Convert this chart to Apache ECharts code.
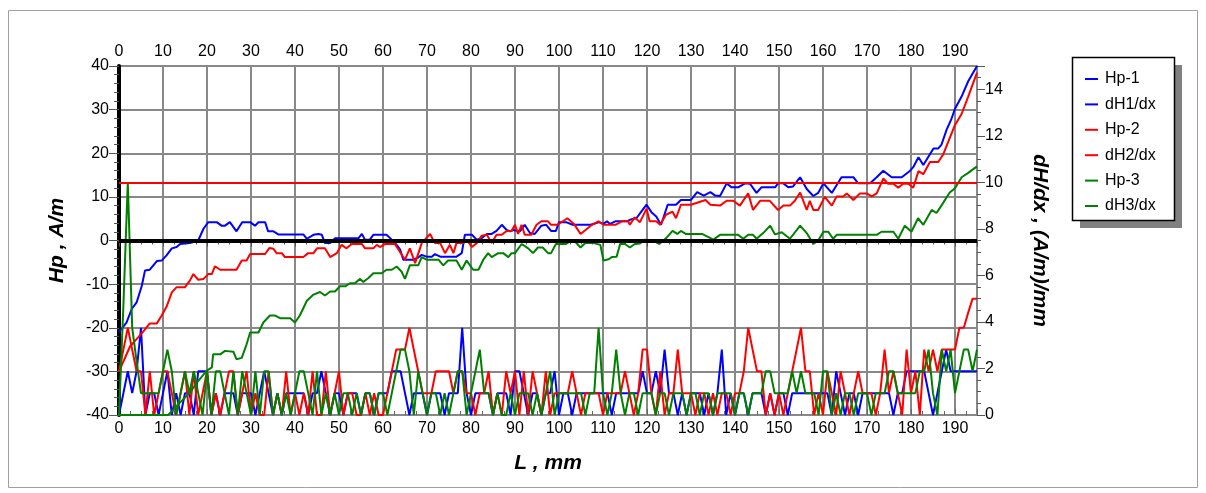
<!DOCTYPE html>
<html><head><meta charset="utf-8">
<script src="https://cdn.jsdelivr.net/npm/echarts/dist/echarts.min.js"></script>
<style>html,body{margin:0;padding:0;background:#fff}#c{width:1206px;height:493px}</style>
</head><body><div id="c"></div>
<script>
// ---- Data (L in mm, Hp in A/m, dH/dx in (A/m)/mm) ----
const legendNames = ['Hp-1','dH1/dx','Hp-2','dH2/dx','Hp-3','dH3/dx'];

const hp1X = [0,1.7,2.9,4,5.2,5.9,7,8.6,9.7,10.8,12,13.1,13.9,16.1,18,19.2,20.3,22.2,23.3,24.1,25.2,26.7,28,29.8,30.9,31.7,33.2,33.9,35.1,36.2,41.9,42.7,44.2,45.3,46.1,46.8,48,49.1,54.4,55.2,55.9,57,57.8,60.8,62,63.1,63.9,64.6,66.9,68,68.8,69.9,71.1,71.8,73,76.7,77.9,78.6,80.2,81.3,82.4,83.6,84.7,85.8,87,88.1,88.9,89.6,91.1,92.2,93.4,94.5,96,97.1,98.2,99.3,100,101.6,103.1,107.2,109,110.1,110.9,111.6,112.8,115.4,116.5,117.6,118.7,119.9,121,122.1,123.2,124.7,126.6,127.7,130,131.4,132.9,134.4,135.5,136.6,138.1,139.2,140.7,142.3,143.4,144.9,146,149.1,149.8,151,152.1,153.2,154.8,156.3,157.8,158.9,160.1,162,164.2,166.9,168,170.7,172.2,173.7,175.6,177.9,179.8,180.5,181.7,182.8,185.1,186.2,186.9,188.1,189.2,190,191.5,193,195];
const hp1Y = [-21,-18.8,-15.7,-14.2,-10.3,-6.9,-6.7,-4.7,-4.6,-3.4,-1.8,-1.5,-0.8,-0.6,0,2.7,4.2,4.2,3.4,3.4,4.2,2.1,4.2,4.2,3.4,4.2,4.2,2.1,2.1,1.4,1.4,0.4,1.3,1.5,1.3,-0.6,-0.6,0.5,0.5,1.5,0.2,0.2,1.3,1.3,0.2,-1,-2.1,-4.4,-4.4,-3.9,-3.3,-3.7,-3.7,-3.1,-3.7,-3.7,-2.9,1.3,1.3,0.2,0.5,1.5,1.5,2.2,3.6,2.4,2.1,2.4,2.1,3.6,1.7,1.5,3.4,3.6,2.2,2.2,4.2,4.2,3.6,3.6,4.2,3.8,4.4,3.8,4.4,4.4,4.9,5.1,6.6,8.2,6.5,5.5,3.6,8.2,8.2,9.3,9.3,11.1,10.3,11.1,10.3,10.2,13.1,12.2,12.2,13.1,13,10.9,12.2,12.2,13.1,13.1,12.2,12.4,14.5,11.8,10.2,10.9,13.1,10.9,14.5,14.5,13.1,13.1,14.5,16,14.5,14.5,16,16.8,19.1,17.3,21.1,21.1,21.9,25.4,27.9,30.2,33,36.5,40];

const hp2X = [0,2.5,4,5.5,7,8.6,9.7,10.8,12,13.1,15,16.1,16.9,18,19.2,20.3,21.1,21.8,23,26.7,27.9,29,29.8,33.2,34.2,35.1,35.8,37,37.7,41.9,43,44.2,45,46.8,48,49.5,50.6,51.7,52.9,55.2,55.9,57.8,58.6,59.3,60.5,62.7,63.9,65,66.1,67.3,68.8,70.7,71.8,73,74.1,75.2,76,76.7,78.3,79,80.2,81.3,82.4,83.6,84.7,85.8,87,88.1,89.2,90,90.7,91.5,92.2,93.7,94.9,96,97.5,98.2,99.7,101.9,103.4,104.9,107.5,109,110.1,112.8,114.3,115.7,116.1,117.2,118.4,119.9,120.6,122.1,123,124.3,125.8,126.6,127.7,130,133.3,134.4,136.6,138.1,139.6,141.1,143,144.1,145.7,147.9,149.8,151,152.5,153.6,154.8,156.3,157,157.8,158.9,160.4,162,163.1,164.6,165.4,166.9,168.4,169.9,171.1,172.2,173.7,174.8,176,177.1,178.2,179.4,180.5,181.7,182.8,184.3,186.2,187.3,188.5,190,191.5,193,195];
const hp2Y = [-30,-24.3,-22.6,-20.9,-19,-19,-17.2,-15.2,-11.9,-10.7,-10.7,-9.2,-7.7,-9,-8.8,-7.7,-7.7,-5.9,-6.7,-6.7,-4.6,-4.6,-3.1,-3.1,-1.7,-1.9,-2.9,-2.9,-3.8,-3.8,-2.9,-2.9,-1.8,-1.8,-3.8,-2.9,-1,-1.8,-0.8,-0.8,-1.8,-1.8,-1,-1.5,-0.8,-0.8,-2.7,-4.4,-1.8,-5.2,-0.6,1.5,-0.6,-0.6,-2.9,-1,-2.9,-0.6,-0.6,0.2,-1.5,-0.6,1.1,1.3,-0.6,1.3,1.3,2.2,2.2,3.6,1.5,3.6,1.3,1.3,3.6,4.4,4.4,3.6,3.6,5.1,3.8,1.5,3.6,4.4,3.6,3.6,4.4,4.4,3.6,5.3,4.2,7.3,4.4,4.4,3.6,5.9,6.6,5.1,8.2,8.2,9.3,8.2,8,9.1,9.1,8,10.8,7,9.1,9.1,7,8,8,9.1,11,7,9.1,7,7,10,8,10.1,10.1,10.8,9.3,10.8,10.8,10.1,10.8,14.2,13,13,12.1,13,13,12.1,15.9,15.2,18,18,19.7,22.7,26.5,29,33,38.5];

const hp3X = [0,11.2,13.1,16.1,17.7,19.9,21.1,21.4,23,24.1,26,26.7,27.9,29,29.8,31.7,32.8,34.3,35.5,36.6,38.9,40,41.1,42.7,44.2,45.7,46.8,48,49.1,50.2,51.4,52.5,53.6,54.8,55.5,56.7,57.8,59.7,60.8,62,63.1,64.2,65,66.1,68,68.8,69.9,72.6,73.7,74.8,76.7,77.9,79,80.5,81.7,82.8,83.9,84.7,86.2,87.3,88.5,89.2,90,91.5,93,94.1,95.2,96.3,97.5,98.2,99.3,101.6,102.7,103.8,104.9,106,107.9,109.4,110.1,111.3,112,113.1,113.9,115,116.1,117.2,118.4,119.5,121.3,122.8,124.3,125.8,126.9,127.7,128.8,132.5,135.1,136.6,140.7,141.9,143,144.1,144.9,146.4,148,149.1,150.6,152.5,154.8,156.3,157.8,158.9,160.1,161.2,162.3,163.1,172.2,173.3,176,177.1,178.6,180.1,181.6,182.8,184.7,185.8,186.9,188.8,190,191.5,193,195];
const hp3Y = [-40,-40,-37.9,-34.9,-32.6,-29.9,-29.1,-26.1,-26.1,-25.3,-25.5,-27.2,-26.9,-23.8,-21.1,-21.1,-18.8,-17.2,-17.2,-17.8,-17.8,-18.8,-17.2,-13.8,-12.4,-11.8,-12.6,-11.7,-11.7,-10.5,-10.5,-9.8,-9.8,-8.8,-9.5,-8.6,-7.5,-7.5,-6.7,-6.7,-5.95,-7.1,-8.8,-5.7,-5.7,-3.8,-4.4,-4.4,-5.7,-4.6,-4.6,-6.7,-4.6,-6.7,-6.7,-4.4,-2.9,-3.8,-2.9,-2.9,-3.8,-2.9,-2.9,-0.8,-1.8,-2.9,-1.6,-1.6,-2.9,-2.9,-0.8,-0.8,-0.1,-0.4,-1.6,-0.6,-0.6,-1,-4.6,-4.3,-3.8,-3.7,-0.8,-0.8,-1.6,-0.8,-0.7,0.2,0,-0.8,0.5,2.2,1.5,2.2,1.5,1.5,0.2,1.3,1.3,0.4,1.3,1.3,0.4,1.7,3.4,1.4,1.9,0.4,3.4,1.7,-0.8,0,2,2,0.4,1.3,1.3,2,2,0.4,3.4,2,5.1,3.6,7,6.3,8,11,12,14.5,15.5,17];

// dH/dx sampled every 1 mm, L = 0 .. 195
const dH1 = [0,.94,1.88,.94,1.88,3.75,0,.94,.94,0,
 .94,1.88,0,.94,0,.94,.94,0,1.88,1.88,
 1.88,0,.94,0,.94,.94,.94,0,.94,.94,
 .94,0,.94,1.88,.94,0,.94,0,.94,.94,
 .94,.94,.94,0,.94,.94,1.88,.94,0,.94,
 .94,0,.94,.94,.94,0,.94,.94,0,.94,
 .94,.94,1.88,1.88,1.88,.94,0,.94,.94,.94,
 0,.94,.94,.94,0,.94,.94,.94,3.75,.94,
 0,.94,.94,.94,.94,0,.94,.94,.94,0,
 1.88,1.88,.94,0,.94,.94,0,.94,.94,1.88,
 0,.94,.94,0,.94,.94,.94,.94,.94,.94,
 .94,.94,0,.94,.94,.94,.94,.94,.94,1.88,
 .94,.94,1.88,.94,2.81,.94,.94,0,.94,0,
 .94,.94,.94,0,.94,0,.94,2.81,0,.94,
 0,.94,.94,0,.94,.94,.94,0,.94,0,
 .94,.94,0,.94,.94,.94,.94,.94,.94,.94,
 .94,.94,0,1.88,.94,0,.94,.94,0,.94,
 .94,.94,.94,.94,.94,.94,0,.94,.94,1.88,
 1.88,1.88,1.88,1.88,.94,0,.94,1.88,2.81,1.88,
 1.88,1.88,1.88,1.88,1.88,1.88];
const dH2 = [1.88,2.81,3.75,2.81,1.88,1.88,0,1.88,0,.94,
 1.88,1.88,.94,0,.94,1.88,0,1.88,0,.94,
 1.88,0,.94,0,.94,1.88,1.88,0,.94,1.88,
 0,.94,0,0,1.88,0,.94,0,1.88,0,
 .94,0,.94,0,1.88,0,0,1.88,0,.94,
 1.88,0,.94,.94,0,0,.94,0,.94,0,
 0,.94,1.88,2.81,2.81,2.81,3.75,2.81,1.88,.94,
 .94,.94,1.88,1.88,1.88,1.88,.94,1.88,1.88,.94,
 .94,0,.94,.94,1.88,0,.94,0,1.88,.94,
 1.88,0,1.88,0,1.88,.94,0,1.88,0,.94,
 .94,.94,.94,1.88,.94,0,.94,.94,.94,.94,
 0,.94,.94,.94,.94,1.88,.94,0,.94,2.81,
 2.81,.94,0,1.88,0,.94,.94,2.81,.94,.94,
 .94,0,.94,.94,0,.94,0,.94,.94,0,
 .94,.94,1.88,3.75,2.81,1.88,1.88,0,.94,0,
 .94,0,.94,1.88,2.81,3.75,1.88,1.88,0,.94,
 0,1.88,.94,0,1.88,.94,0,.94,1.88,.94,
 .94,.94,0,.94,2.81,.94,1.88,.94,0,2.81,
 .94,1.88,0,2.81,1.88,2.81,1.88,2.81,2.81,2.81,
 2.81,3.75,3.75,4.4,5,5];
const dH3 = [0,4.7,10,3.75,2.3,.94,.94,.94,.94,.94,
 1.88,2.81,1.88,0,.94,1.88,.94,1.88,.94,0,
 1.88,0,1.88,1.88,.94,0,1.88,0,1.88,.94,
 0,1.88,0,1.88,1.88,0,.94,0,.94,0,
 .94,1.88,1.88,.94,0,1.88,0,.94,0,.94,
 0,.94,.94,0,.94,0,.94,.94,0,.94,
 .94,0,.94,1.88,2.81,2.81,1.88,0,1.88,.94,
 0,.94,.94,0,.94,0,.94,1.88,1.88,0,
 .94,1.88,2.81,.94,.94,0,.94,0,0,.94,
 0,.94,.94,.94,0,.94,0,.94,1.88,0,
 .94,.94,.94,.94,.94,.94,0,.94,.94,3.75,
 .94,0,.94,2.81,.94,0,.94,.94,0,.94,
 .94,.94,0,.94,.94,0,.94,.94,.94,0,
 .94,.94,0,.94,.94,0,.94,.94,.94,.94,
 0,.94,.94,0,.94,.94,.94,1.88,1.88,.94,
 .94,.94,.94,1.88,.94,1.88,.94,.94,.94,0,
 1.88,1.88,0,.94,0,.94,.94,0,.94,.94,
 .94,0,.94,.94,.94,1.88,1.88,.94,.94,.94,
 .94,.94,1.88,1.88,2.81,.94,0,2.81,1.88,2.81,
 .94,1.88,2.81,2.81,1.88,2.81];

const thresholdDH = 10;   // horizontal red limit line (right axis)

// ---- Chart ----
const zip = (xs, ys) => xs.slice(0, Math.min(xs.length, ys.length)).map((x, i) => [x, ys[i]]);
const byMm = vs => vs.map((v, i) => [i, v]);

const FONT = 'Liberation Sans, Arial, sans-serif';
const BLUE = '#0000ff', RED = '#ff0000', GREEN = '#008000';
const PL = 119, PT = 66, PR = 977, PB = 415;

const chart = echarts.init(document.getElementById('c'), null, {renderer: 'canvas'});

function line(name, data, color, yIdx, extra) {
  return Object.assign({
    name, type: 'line', data, xAxisIndex: 0, yAxisIndex: yIdx,
    showSymbol: false, symbol: 'none', smooth: false, animation: false,
    lineStyle: {color, width: 2}, itemStyle: {color}, clip: true
  }, extra || {});
}

const axisLabelStyle = {color: '#000', fontFamily: FONT, fontSize: 16};

chart.setOption({
  animation: false,
  backgroundColor: '#fff',
  grid: {left: PL, top: PT, width: PR - PL, height: PB - PT, containLabel: false},
  legend: {
    data: legendNames, orient: 'vertical', left: 1080, top: 66,
    icon: 'rect', itemWidth: 13, itemHeight: 2, itemGap: 9.4,
    textStyle: {fontFamily: FONT, fontSize: 16, color: '#000', lineHeight: 16, padding: [0,0,0,2]},
    selectedMode: false
  },
  xAxis: [
    {type: 'value', position: 'bottom', min: 0, max: 195, interval: 10,
     axisLine: {show: true, lineStyle: {color: '#555', width: 2}},
     axisTick: {show: true, length: 6, lineStyle: {color: '#555', width: 1}},
     minorTick: {show: true, splitNumber: 4, length: 4, lineStyle: {color: '#555'}},
     axisLabel: Object.assign({margin: 6, showMaxLabel: false}, axisLabelStyle),
     splitLine: {show: true, lineStyle: {color: '#888', width: 2}}},
    {type: 'value', position: 'top', min: 0, max: 195, interval: 10,
     axisLine: {show: true, lineStyle: {color: '#888', width: 2}},
     axisTick: {show: true, length: 6, lineStyle: {color: '#666', width: 1}},
     minorTick: {show: true, splitNumber: 4, length: 4, lineStyle: {color: '#666'}},
     axisLabel: Object.assign({margin: 6, showMaxLabel: false}, axisLabelStyle),
     splitLine: {show: false}}
  ],
  yAxis: [
    {type: 'value', position: 'left', min: -40, max: 40, interval: 10,
     axisLine: {show: true, onZero: false, lineStyle: {color: '#000', width: 4}},
     axisTick: {show: true, length: 10, lineStyle: {color: '#555', width: 1}},
     minorTick: {show: true, splitNumber: 5, length: 5, lineStyle: {color: '#555'}},
     axisLabel: Object.assign({margin: 10}, axisLabelStyle),
     splitLine: {show: true, lineStyle: {color: '#888', width: 2}}},
    {type: 'value', position: 'right', min: 0, max: 15, interval: 2,
     axisLine: {show: true, onZero: false, lineStyle: {color: '#888', width: 2}},
     axisTick: {show: true, length: 8, lineStyle: {color: '#555', width: 1}},
     minorTick: {show: true, splitNumber: 4, length: 4, lineStyle: {color: '#555'}},
     axisLabel: Object.assign({margin: 8, showMaxLabel: false}, axisLabelStyle),
     splitLine: {show: false}}
  ],
  graphic: [
    {type: 'rect', z: -10, silent: true, shape: {x: 8.5, y: 10.5, width: 1189, height: 477},
     style: {fill: 'none', stroke: '#a0a0a0', lineWidth: 1}},
    {type: 'rect', z: 1, silent: true, shape: {x: 1080, y: 65, width: 102, height: 163},
     style: {fill: '#808080'}},
    {type: 'rect', z: 2, silent: true, shape: {x: 1072.5, y: 57.5, width: 102, height: 163},
     style: {fill: '#fff', stroke: '#000', lineWidth: 1.5}},
    {type: 'text', silent: true, x: 57, y: (PT + PB) / 2, rotation: Math.PI / 2,
     style: {text: 'Hp , A/m', font: 'italic bold 21px ' + FONT, fill: '#000', align: 'center', verticalAlign: 'middle'}},
    {type: 'text', silent: true, x: (PL + PR) / 2, y: 463,
     style: {text: 'L , mm', font: 'italic bold 21px ' + FONT, fill: '#000', align: 'center', verticalAlign: 'middle'}},
    {type: 'text', silent: true, x: 1040, y: (PT + PB) / 2, rotation: -Math.PI / 2,
     style: {text: 'dH/dx , (A/m)/mm', font: 'italic bold 21px ' + FONT, fill: '#000', align: 'center', verticalAlign: 'middle'}}
  ],
  series: [
    line('Hp-1', zip(hp1X, hp1Y), BLUE, 0),
    line('dH1/dx', byMm(dH1), BLUE, 1),
    line('Hp-2', zip(hp2X, hp2Y), RED, 0),
    line('dH2/dx', byMm(dH2), RED, 1, {
      markLine: {silent: true, symbol: 'none', label: {show: false}, animation: false,
        lineStyle: {color: RED, width: 2, type: 'solid'}, data: [{yAxis: thresholdDH}]}
    }),
    line('Hp-3', zip(hp3X, hp3Y), GREEN, 0, {
      markLine: {silent: true, symbol: 'none', label: {show: false}, animation: false,
        lineStyle: {color: '#000', width: 4, type: 'solid'}, data: [{yAxis: 0}]}
    }),
    line('dH3/dx', byMm(dH3), GREEN, 1)
  ]
});
</script>
</body></html>
